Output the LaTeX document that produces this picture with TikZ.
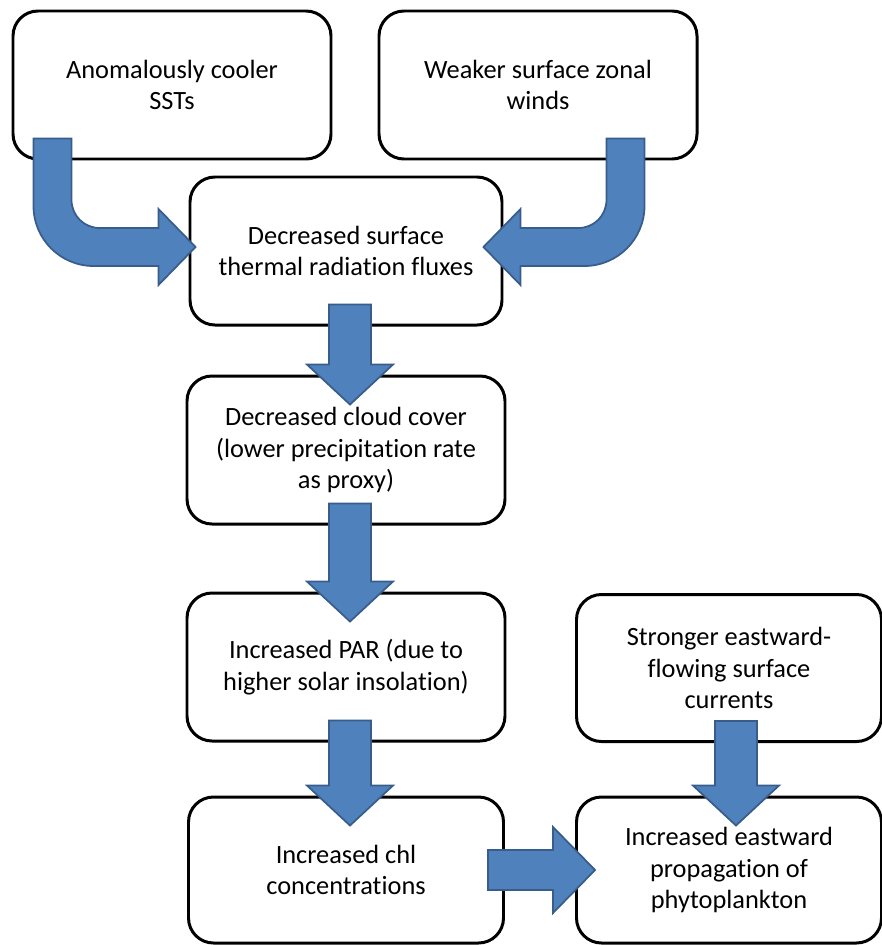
\documentclass[tikz,border=0pt]{standalone}
\usepackage{fontspec}
\setmainfont{Carlito}[Ligatures=NoCommon]
\usetikzlibrary{positioning,calc}
\usepackage{xcolor}
\definecolor{arrowfill}{HTML}{4F81BD}
\definecolor{arrowline}{HTML}{385D8A}
\newlength{\pu}
\setlength{\pu}{0.02cm}
\tikzstyle{block} = [draw, line width=1.7pt, fill=white, rectangle, rounded corners=0.5cm, minimum height=2.96cm, minimum width=6.36cm, align=center]
\tikzstyle{fat} = [fill=arrowfill, draw=arrowline, line width=1pt, line join=miter]
% straight block arrow downwards: [x shift]{from}{to}
\newcommand{\fatdown}[3][0]{%
  \filldraw[fat] let \p1=($(#2.south)+(#1*\pu,22*\pu)$), \p2=($(#3.north)-(0,30*\pu)$) in
    (\x1-21*\pu,\y1) -- (\x1+21*\pu,\y1) -- (\x1+21*\pu,\y2+40*\pu) -- (\x1+43*\pu,\y2+40*\pu)
    -- (\x1,\y2) -- (\x1-43*\pu,\y2+40*\pu) -- (\x1-21*\pu,\y2+40*\pu) -- cycle;}
% straight block arrow to the right: {from}{to}
\newcommand{\fatright}[2]{%
  \filldraw[fat] let \p1=($(#1.east)-(17*\pu,0)$), \p2=($(#2.west)+(20*\pu,0)$) in
    (\x1,\y1+20*\pu) -- (\x2-42*\pu,\y1+20*\pu) -- (\x2-42*\pu,\y1+43*\pu) -- (\x2,\y1)
    -- (\x2-42*\pu,\y1-43*\pu) -- (\x2-42*\pu,\y1-20*\pu) -- (\x1,\y1-20*\pu) -- cycle;}
% bent block arrow, down then sideways: {direction}{start}{tip}
\newcommand{\fatbent}[3]{%
  \filldraw[fat] let \p1=(#2), \p2=(#3) in
    (\x1-#1*19*\pu,\y1) -- (\x1+#1*19*\pu,\y1) -- (\x1+#1*19*\pu,\y2+47*\pu)
    .. controls (\x1+#1*19*\pu,\y2+31.5*\pu) and (\x1+#1*31.5*\pu,\y2+19*\pu) .. (\x1+#1*47*\pu,\y2+19*\pu)
    -- (\x2-#1*37*\pu,\y2+19*\pu) -- (\x2-#1*37*\pu,\y2+38*\pu) -- (\x2,\y2)
    -- (\x2-#1*37*\pu,\y2-38*\pu) -- (\x2-#1*37*\pu,\y2-19*\pu) -- (\x1+#1*41*\pu,\y2-19*\pu)
    .. controls (\x1+#1*7.9*\pu,\y2-19*\pu) and (\x1-#1*19*\pu,\y2+7.9*\pu) .. (\x1-#1*19*\pu,\y2+41*\pu)
    -- cycle;}

\begin{document}
\begin{tikzpicture}[auto, node distance=4cm]
    \tikzset{font={\fontsize{15pt}{18pt}\selectfont}}
    \useasboundingbox (0,0) rectangle (17.64,-18.9);
    \node [block] (sst) at (3.44,-1.70) {Anomalously cooler\\ SSTs};
    \node [block, right of=sst, node distance=7.32cm] (wind) {Weaker surface zonal\\ winds};
    \node [block, minimum width=6.24cm] (flux) at (6.92,-5.02) {Decreased surface\\ thermal radiation fluxes};
    \node [block, below of=flux, node distance=3.98cm] (cloud) {Decreased cloud cover\\ (lower precipitation rate\\ as proxy)};
    \node [block, below of=cloud, node distance=4.34cm] (par) {Increased PAR (due to\\ higher solar insolation)};
    \node [block, below of=par, node distance=4.06cm, minimum width=6.3cm, minimum height=2.92cm] (chl) {Increased chl\\ concentrations};
    \node [block, right of=chl, node distance=7.66cm, minimum width=6.1cm, minimum height=2.92cm] (prop) {Increased eastward\\ propagation of\\ phytoplankton};
    \node [block, above of=prop, node distance=4.04cm, minimum width=6.1cm, minimum height=2.94cm] (curr) {Stronger eastward-\\ flowing surface\\ currents};

    % Bent arrows into the flux box
    \coordinate (sstout) at ($(sst.south west)+(41*\pu,22*\pu)$);
    \coordinate (fluxin1) at ($(flux.west)+(7*\pu,4*\pu)$);
    \coordinate (windout) at ($(wind.south east)+(-73*\pu,22*\pu)$);
    \coordinate (fluxin2) at ($(flux.east)+(-20*\pu,4*\pu)$);
    \fatbent{1}{sstout}{fluxin1}
    \fatbent{-1}{windout}{fluxin2}

    % Straight arrows
    \fatdown[4]{flux}{cloud}
    \fatdown[4]{cloud}{par}
    \fatdown[4]{par}{chl}
    \fatdown[7]{curr}{prop}
    \fatright{chl}{prop}
\end{tikzpicture}
\end{document}
